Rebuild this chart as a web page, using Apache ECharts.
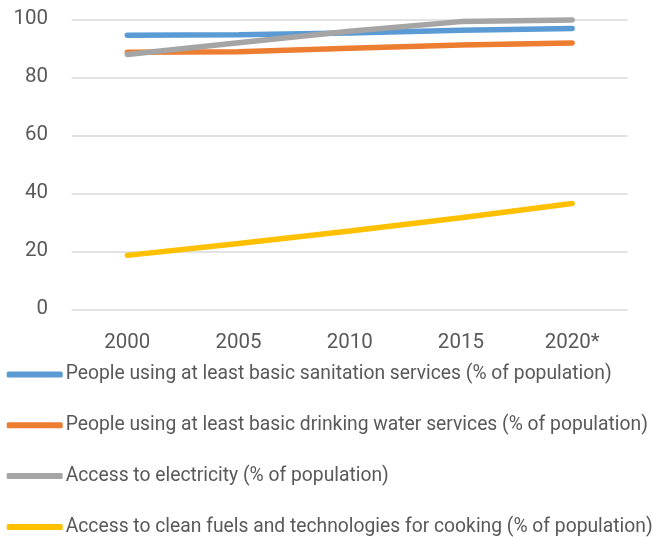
<!DOCTYPE html>
<html><head><meta charset="utf-8">
<script src="https://cdn.jsdelivr.net/npm/echarts@6/dist/echarts.min.js"></script>
<style>html,body{margin:0;padding:0;background:#fff}#c{width:656px;height:537px}</style>
</head><body><div id="c"></div>
<script>
const categories = ['2000','2005','2010','2015','2020*'];
const sanitation = [94.5, 94.7, 95.3, 96.2, 96.8];
const water = [88.6, 88.8, 90.0, 91.1, 91.8];
const electricity = [87.9, 91.9, 95.9, 99.2, 99.8];
const cooking = [18.6, 22.7, 27.0, 31.6, 36.5];
const yTicks = {min: 0, max: 100, interval: 20};
const names = [
  'People using at least basic sanitation services (% of population)',
  'People using at least basic drinking water services (% of population)',
  'Access to electricity (% of population)',
  'Access to clean fuels and technologies for cooking (% of population)'
];
const colors = ['#5B9BD5','#ED7D31','#A5A5A5','#FFC000'];
const font = 'Roboto';
const chart = echarts.init(document.getElementById('c'));
const mk = (name, data, i) => ({
  name, type: 'line', data, symbol: 'none', smooth: false,
  lineStyle: {width: 5.5, color: colors[i], cap: 'round'},
  itemStyle: {color: colors[i]}, z: 2 + i
});
chart.setOption({
  animation: false,
  color: colors,
  grid: {left: 71.7, right: 28.3, top: 19.3, bottom: 227.7, containLabel: false},
  xAxis: {
    type: 'category', data: categories, boundaryGap: true,
    axisLine: {show: false}, axisTick: {show: false},
    axisLabel: {color: '#595959', fontSize: 20.5, fontFamily: font, margin: 23}
  },
  yAxis: {
    type: 'value', min: yTicks.min, max: yTicks.max, interval: yTicks.interval,
    axisLine: {show: false}, axisTick: {show: false},
    splitLine: {lineStyle: {color: '#D9D9D9', width: 1.5}},
    axisLabel: {color: '#595959', fontSize: 20.5, fontFamily: font, margin: 23.7}
  },
  legend: {
    orient: 'vertical', left: 6.7, top: 364.5, height: 200, padding: 0,
    itemWidth: 56, itemHeight: 6, itemGap: 30.8,
    icon: 'roundRect',
    textStyle: {color: '#595959', fontSize: 19.3, lineHeight: 20, fontFamily: font, padding: [0,0,0,-2]},
    data: names
  },
  series: [
    mk(names[0], sanitation, 0),
    mk(names[1], water, 1),
    mk(names[2], electricity, 2),
    mk(names[3], cooking, 3)
  ]
});
</script></body></html>
